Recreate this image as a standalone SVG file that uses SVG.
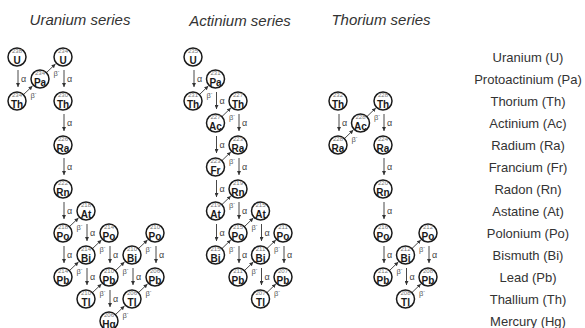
<svg xmlns="http://www.w3.org/2000/svg" width="585" height="328" viewBox="0 0 585 328">
<defs>
<marker id="ah" viewBox="0 0 6 6" refX="6" refY="3" markerWidth="4" markerHeight="4" orient="auto" markerUnits="userSpaceOnUse"><path d="M0,0 L6,3 L0,6 z" fill="#333"/></marker>
<style>
.c{fill:#fff;stroke:#1a1a1a;stroke-width:1.5}
.m{font-family:"Liberation Sans",Arial,sans-serif;font-size:6px;fill:#777;text-anchor:middle}
.s{font-family:"Liberation Sans",Arial,sans-serif;font-size:10px;font-weight:bold;fill:#1a1a1a;text-anchor:middle}
.ar{stroke:#333;stroke-width:0.9;fill:none;marker-end:url(#ah)}
.la{font-family:"Liberation Sans",Arial,sans-serif;font-size:9px;fill:#444}
.lb{font-family:"Liberation Sans",Arial,sans-serif;font-size:7.5px;fill:#555}
.t{font-family:"Liberation Sans",Arial,sans-serif;font-size:15px;font-style:italic;fill:#333;text-anchor:middle}
.r{font-family:"Liberation Sans",Arial,sans-serif;font-size:13px;fill:#333;text-anchor:middle}
</style>
</defs>
<rect width="585" height="328" fill="#fff"/>
<g id="titles">
<text class="t" x="80" y="25">Uranium series</text>
<text class="t" x="240" y="26">Actinium series</text>
<text class="t" x="381" y="25">Thorium series</text>
</g>
<g id="legend">
<text class="r" x="528" y="61.5">Uranium (U)</text>
<text class="r" x="528" y="83.5">Protoactinium (Pa)</text>
<text class="r" x="528" y="105.5">Thorium (Th)</text>
<text class="r" x="528" y="127.5">Actinium (Ac)</text>
<text class="r" x="528" y="149.5">Radium (Ra)</text>
<text class="r" x="528" y="171.5">Francium (Fr)</text>
<text class="r" x="528" y="193.5">Radon (Rn)</text>
<text class="r" x="528" y="215.5">Astatine (At)</text>
<text class="r" x="528" y="237.5">Polonium (Po)</text>
<text class="r" x="528" y="259.5">Bismuth (Bi)</text>
<text class="r" x="528" y="281.5">Lead (Pb)</text>
<text class="r" x="528" y="303.5">Thallium (Th)</text>
<text class="r" x="528" y="325.5">Mercury (Hg)</text>
</g>
<g id="connectors">
<!-- Uranium alpha -->
<line class="ar" x1="18" y1="70" x2="18" y2="87"/><text class="la" x="21" y="81.5">α</text>
<line class="ar" x1="64" y1="70" x2="64" y2="87"/><text class="la" x="67" y="81.5">α</text>
<line class="ar" x1="64" y1="114" x2="64" y2="131"/><text class="la" x="67" y="125.5">α</text>
<line class="ar" x1="64" y1="158" x2="64" y2="175"/><text class="la" x="67" y="169.5">α</text>
<line class="ar" x1="64" y1="202" x2="64" y2="219"/><text class="la" x="67" y="213.5">α</text>
<line class="ar" x1="64" y1="246" x2="64" y2="263"/><text class="la" x="67" y="257.5">α</text>
<line class="ar" x1="87" y1="224" x2="87" y2="241"/><text class="la" x="90" y="235.5">α</text>
<line class="ar" x1="87" y1="268" x2="87" y2="285"/><text class="la" x="90" y="279.5">α</text>
<line class="ar" x1="110" y1="246" x2="110" y2="263"/><text class="la" x="113" y="257.5">α</text>
<line class="ar" x1="110" y1="290" x2="110" y2="307"/><text class="la" x="113" y="301.5">α</text>
<line class="ar" x1="133" y1="268" x2="133" y2="285"/><text class="la" x="136" y="279.5">α</text>
<line class="ar" x1="156" y1="246" x2="156" y2="263"/><text class="la" x="159" y="257.5">α</text>
<!-- Uranium beta -->
<line class="ar" x1="23" y1="95" x2="32.5" y2="86"/><text class="lb" x="30.5" y="98">β<tspan dy="-3" font-size="5">-</tspan></text>
<line class="ar" x1="46" y1="73" x2="55.5" y2="64"/><text class="lb" x="53.5" y="76">β<tspan dy="-3" font-size="5">-</tspan></text>
<line class="ar" x1="69" y1="227" x2="78.5" y2="218"/><text class="lb" x="76.5" y="230">β<tspan dy="-3" font-size="5">-</tspan></text>
<line class="ar" x1="69" y1="271" x2="78.5" y2="262"/><text class="lb" x="76.5" y="274">β<tspan dy="-3" font-size="5">-</tspan></text>
<line class="ar" x1="92" y1="249" x2="101.5" y2="240"/><text class="lb" x="99.5" y="252">β<tspan dy="-3" font-size="5">-</tspan></text>
<line class="ar" x1="92" y1="293" x2="101.5" y2="284"/><text class="lb" x="99.5" y="296">β<tspan dy="-3" font-size="5">-</tspan></text>
<line class="ar" x1="115" y1="271" x2="124.5" y2="262"/><text class="lb" x="122.5" y="274">β<tspan dy="-3" font-size="5">-</tspan></text>
<line class="ar" x1="115" y1="315" x2="124.5" y2="306"/><text class="lb" x="122.5" y="318">β<tspan dy="-3" font-size="5">-</tspan></text>
<line class="ar" x1="138" y1="249" x2="147.5" y2="240"/><text class="lb" x="145.5" y="252">β<tspan dy="-3" font-size="5">-</tspan></text>
<line class="ar" x1="138" y1="293" x2="147.5" y2="284"/><text class="lb" x="145.5" y="296">β<tspan dy="-3" font-size="5">-</tspan></text>
<!-- Actinium alpha -->
<line class="ar" x1="194" y1="70" x2="194" y2="87"/><text class="la" x="197" y="81.5">α</text>
<line class="ar" x1="216.5" y1="92" x2="216.5" y2="109"/><text class="la" x="219.5" y="103.5">α</text>
<line class="ar" x1="239" y1="114" x2="239" y2="131"/><text class="la" x="242" y="125.5">α</text>
<line class="ar" x1="216.5" y1="136" x2="216.5" y2="153"/><text class="la" x="219.5" y="147.5">α</text>
<line class="ar" x1="239" y1="158" x2="239" y2="175"/><text class="la" x="242" y="169.5">α</text>
<line class="ar" x1="216.5" y1="180" x2="216.5" y2="197"/><text class="la" x="219.5" y="191.5">α</text>
<line class="ar" x1="239" y1="202" x2="239" y2="219"/><text class="la" x="242" y="213.5">α</text>
<line class="ar" x1="216.5" y1="224" x2="216.5" y2="241"/><text class="la" x="219.5" y="235.5">α</text>
<line class="ar" x1="261.5" y1="224" x2="261.5" y2="241"/><text class="la" x="264.5" y="235.5">α</text>
<line class="ar" x1="239" y1="246" x2="239" y2="263"/><text class="la" x="242" y="257.5">α</text>
<line class="ar" x1="261.5" y1="268" x2="261.5" y2="285"/><text class="la" x="264.5" y="279.5">α</text>
<line class="ar" x1="284" y1="246" x2="284" y2="263"/><text class="la" x="287" y="257.5">α</text>
<!-- Actinium beta -->
<line class="ar" x1="199" y1="95" x2="208.3" y2="86"/><text class="lb" x="206.5" y="98">β<tspan dy="-3" font-size="5">-</tspan></text>
<line class="ar" x1="221.5" y1="117" x2="230.8" y2="108"/><text class="lb" x="229" y="120">β<tspan dy="-3" font-size="5">-</tspan></text>
<line class="ar" x1="221.5" y1="161" x2="230.8" y2="152"/><text class="lb" x="229" y="164">β<tspan dy="-3" font-size="5">-</tspan></text>
<line class="ar" x1="221.5" y1="205" x2="230.8" y2="196"/><text class="lb" x="229" y="208">β<tspan dy="-3" font-size="5">-</tspan></text>
<line class="ar" x1="221.5" y1="249" x2="230.8" y2="240"/><text class="lb" x="229" y="252">β<tspan dy="-3" font-size="5">-</tspan></text>
<line class="ar" x1="244" y1="227" x2="253.3" y2="218"/><text class="lb" x="251.5" y="230">β<tspan dy="-3" font-size="5">-</tspan></text>
<line class="ar" x1="244" y1="271" x2="253.3" y2="262"/><text class="lb" x="251.5" y="274">β<tspan dy="-3" font-size="5">-</tspan></text>
<line class="ar" x1="266.5" y1="249" x2="275.8" y2="240"/><text class="lb" x="274" y="252">β<tspan dy="-3" font-size="5">-</tspan></text>
<line class="ar" x1="266.5" y1="293" x2="275.8" y2="284"/><text class="lb" x="274" y="296">β<tspan dy="-3" font-size="5">-</tspan></text>
<!-- Thorium alpha -->
<line class="ar" x1="339" y1="114" x2="339" y2="131"/><text class="la" x="342" y="125.5">α</text>
<line class="ar" x1="384" y1="114" x2="384" y2="131"/><text class="la" x="387" y="125.5">α</text>
<line class="ar" x1="384" y1="158" x2="384" y2="175"/><text class="la" x="387" y="169.5">α</text>
<line class="ar" x1="384" y1="202" x2="384" y2="219"/><text class="la" x="387" y="213.5">α</text>
<line class="ar" x1="384" y1="246" x2="384" y2="263"/><text class="la" x="387" y="257.5">α</text>
<line class="ar" x1="406.5" y1="268" x2="406.5" y2="285"/><text class="la" x="409.5" y="279.5">α</text>
<line class="ar" x1="429" y1="246" x2="429" y2="263"/><text class="la" x="432" y="257.5">α</text>
<!-- Thorium beta -->
<line class="ar" x1="344" y1="139" x2="353.3" y2="130"/><text class="lb" x="351.5" y="142">β<tspan dy="-3" font-size="5">-</tspan></text>
<line class="ar" x1="366.5" y1="117" x2="375.8" y2="108"/><text class="lb" x="374" y="120">β<tspan dy="-3" font-size="5">-</tspan></text>
<line class="ar" x1="389" y1="271" x2="398.3" y2="262"/><text class="lb" x="396.5" y="274">β<tspan dy="-3" font-size="5">-</tspan></text>
<line class="ar" x1="411.5" y1="249" x2="420.8" y2="240"/><text class="lb" x="419" y="252">β<tspan dy="-3" font-size="5">-</tspan></text>
<line class="ar" x1="411.5" y1="293" x2="420.8" y2="284"/><text class="lb" x="419" y="296">β<tspan dy="-3" font-size="5">-</tspan></text>
</g>
<!-- Uranium series nodes -->
<g id="U238"><circle class="c" cx="17" cy="57" r="9"/><text class="m" x="17" y="53">238</text><text class="s" x="17" y="63.5">U</text></g>
<g id="Th234"><circle class="c" cx="17" cy="101" r="9"/><text class="m" x="17" y="97">234</text><text class="s" x="17" y="107.5">Th</text></g>
<g id="Pa234"><circle class="c" cx="40" cy="79" r="9"/><text class="m" x="40" y="75">234</text><text class="s" x="40" y="85.5">Pa</text></g>
<g id="U234"><circle class="c" cx="63" cy="57" r="9"/><text class="m" x="63" y="53">234</text><text class="s" x="63" y="63.5">U</text></g>
<g id="Th230"><circle class="c" cx="63" cy="101" r="9"/><text class="m" x="63" y="97">230</text><text class="s" x="63" y="107.5">Th</text></g>
<g id="Ra226"><circle class="c" cx="63" cy="145" r="9"/><text class="m" x="63" y="141">226</text><text class="s" x="63" y="151.5">Ra</text></g>
<g id="Rn222"><circle class="c" cx="63" cy="189" r="9"/><text class="m" x="63" y="185">222</text><text class="s" x="63" y="195.5">Rn</text></g>
<g id="Po218"><circle class="c" cx="63" cy="233" r="9"/><text class="m" x="63" y="229">218</text><text class="s" x="63" y="239.5">Po</text></g>
<g id="At218"><circle class="c" cx="86" cy="211" r="9"/><text class="m" x="86" y="207">218</text><text class="s" x="86" y="217.5">At</text></g>
<g id="Pb214"><circle class="c" cx="63" cy="277" r="9"/><text class="m" x="63" y="273">214</text><text class="s" x="63" y="283.5">Pb</text></g>
<g id="Bi214"><circle class="c" cx="86" cy="255" r="9"/><text class="m" x="86" y="251">214</text><text class="s" x="86" y="261.5">Bi</text></g>
<g id="Po214"><circle class="c" cx="109" cy="233" r="9"/><text class="m" x="109" y="229">214</text><text class="s" x="109" y="239.5">Po</text></g>
<g id="Tl210"><circle class="c" cx="86" cy="299" r="9"/><text class="m" x="86" y="295">210</text><text class="s" x="86" y="305.5">Tl</text></g>
<g id="Pb210"><circle class="c" cx="109" cy="277" r="9"/><text class="m" x="109" y="273">210</text><text class="s" x="109" y="283.5">Pb</text></g>
<g id="Bi210"><circle class="c" cx="132" cy="255" r="9"/><text class="m" x="132" y="251">210</text><text class="s" x="132" y="261.5">Bi</text></g>
<g id="Hg206"><circle class="c" cx="109" cy="321" r="9"/><text class="m" x="109" y="317">206</text><text class="s" x="109" y="327.5">Hg</text></g>
<g id="Tl206"><circle class="c" cx="132" cy="299" r="9"/><text class="m" x="132" y="295">206</text><text class="s" x="132" y="305.5">Tl</text></g>
<g id="Po210"><circle class="c" cx="155" cy="233" r="9"/><text class="m" x="155" y="229">210</text><text class="s" x="155" y="239.5">Po</text></g>
<g id="Pb206"><circle class="c" cx="155" cy="277" r="9"/><text class="m" x="155" y="273">206</text><text class="s" x="155" y="283.5">Pb</text></g>
<!-- Actinium series nodes -->
<g id="U235"><circle class="c" cx="193" cy="57" r="9"/><text class="m" x="193" y="53">235</text><text class="s" x="193" y="63.5">U</text></g>
<g id="Th231"><circle class="c" cx="193" cy="101" r="9"/><text class="m" x="193" y="97">231</text><text class="s" x="193" y="107.5">Th</text></g>
<g id="Pa231"><circle class="c" cx="215.5" cy="79" r="9"/><text class="m" x="215.5" y="75">231</text><text class="s" x="215.5" y="85.5">Pa</text></g>
<g id="Ac227"><circle class="c" cx="215.5" cy="123" r="9"/><text class="m" x="215.5" y="119">227</text><text class="s" x="215.5" y="129.5">Ac</text></g>
<g id="Th227"><circle class="c" cx="238" cy="101" r="9"/><text class="m" x="238" y="97">227</text><text class="s" x="238" y="107.5">Th</text></g>
<g id="Fr223"><circle class="c" cx="215.5" cy="167" r="9"/><text class="m" x="215.5" y="163">223</text><text class="s" x="215.5" y="173.5">Fr</text></g>
<g id="Ra223"><circle class="c" cx="238" cy="145" r="9"/><text class="m" x="238" y="141">223</text><text class="s" x="238" y="151.5">Ra</text></g>
<g id="At219"><circle class="c" cx="215.5" cy="211" r="9"/><text class="m" x="215.5" y="207">219</text><text class="s" x="215.5" y="217.5">At</text></g>
<g id="Rn219"><circle class="c" cx="238" cy="189" r="9"/><text class="m" x="238" y="185">219</text><text class="s" x="238" y="195.5">Rn</text></g>
<g id="Bi215"><circle class="c" cx="215.5" cy="255" r="9"/><text class="m" x="215.5" y="251">215</text><text class="s" x="215.5" y="261.5">Bi</text></g>
<g id="Po215"><circle class="c" cx="238" cy="233" r="9"/><text class="m" x="238" y="229">215</text><text class="s" x="238" y="239.5">Po</text></g>
<g id="At215"><circle class="c" cx="260.5" cy="211" r="9"/><text class="m" x="260.5" y="207">215</text><text class="s" x="260.5" y="217.5">At</text></g>
<g id="Pb211"><circle class="c" cx="238" cy="277" r="9"/><text class="m" x="238" y="273">211</text><text class="s" x="238" y="283.5">Pb</text></g>
<g id="Bi211"><circle class="c" cx="260.5" cy="255" r="9"/><text class="m" x="260.5" y="251">211</text><text class="s" x="260.5" y="261.5">Bi</text></g>
<g id="Po211"><circle class="c" cx="283" cy="233" r="9"/><text class="m" x="283" y="229">211</text><text class="s" x="283" y="239.5">Po</text></g>
<g id="Tl207"><circle class="c" cx="260.5" cy="299" r="9"/><text class="m" x="260.5" y="295">207</text><text class="s" x="260.5" y="305.5">Tl</text></g>
<g id="Pb207"><circle class="c" cx="283" cy="277" r="9"/><text class="m" x="283" y="273">207</text><text class="s" x="283" y="283.5">Pb</text></g>
<!-- Thorium series nodes -->
<g id="Th232"><circle class="c" cx="338" cy="101" r="9"/><text class="m" x="338" y="97">232</text><text class="s" x="338" y="107.5">Th</text></g>
<g id="Ra228"><circle class="c" cx="338" cy="145" r="9"/><text class="m" x="338" y="141">228</text><text class="s" x="338" y="151.5">Ra</text></g>
<g id="Ac228"><circle class="c" cx="360.5" cy="123" r="9"/><text class="m" x="360.5" y="119">228</text><text class="s" x="360.5" y="129.5">Ac</text></g>
<g id="Th228"><circle class="c" cx="383" cy="101" r="9"/><text class="m" x="383" y="97">228</text><text class="s" x="383" y="107.5">Th</text></g>
<g id="Ra224"><circle class="c" cx="383" cy="145" r="9"/><text class="m" x="383" y="141">224</text><text class="s" x="383" y="151.5">Ra</text></g>
<g id="Rn220"><circle class="c" cx="383" cy="189" r="9"/><text class="m" x="383" y="185">220</text><text class="s" x="383" y="195.5">Rn</text></g>
<g id="Po216"><circle class="c" cx="383" cy="233" r="9"/><text class="m" x="383" y="229">216</text><text class="s" x="383" y="239.5">Po</text></g>
<g id="Pb212"><circle class="c" cx="383" cy="277" r="9"/><text class="m" x="383" y="273">212</text><text class="s" x="383" y="283.5">Pb</text></g>
<g id="Bi212"><circle class="c" cx="405.5" cy="255" r="9"/><text class="m" x="405.5" y="251">212</text><text class="s" x="405.5" y="261.5">Bi</text></g>
<g id="Po212"><circle class="c" cx="428" cy="233" r="9"/><text class="m" x="428" y="229">212</text><text class="s" x="428" y="239.5">Po</text></g>
<g id="Tl208"><circle class="c" cx="405.5" cy="299" r="9"/><text class="m" x="405.5" y="295">208</text><text class="s" x="405.5" y="305.5">Tl</text></g>
<g id="Pb208"><circle class="c" cx="428" cy="277" r="9"/><text class="m" x="428" y="273">208</text><text class="s" x="428" y="283.5">Pb</text></g>
</svg>
